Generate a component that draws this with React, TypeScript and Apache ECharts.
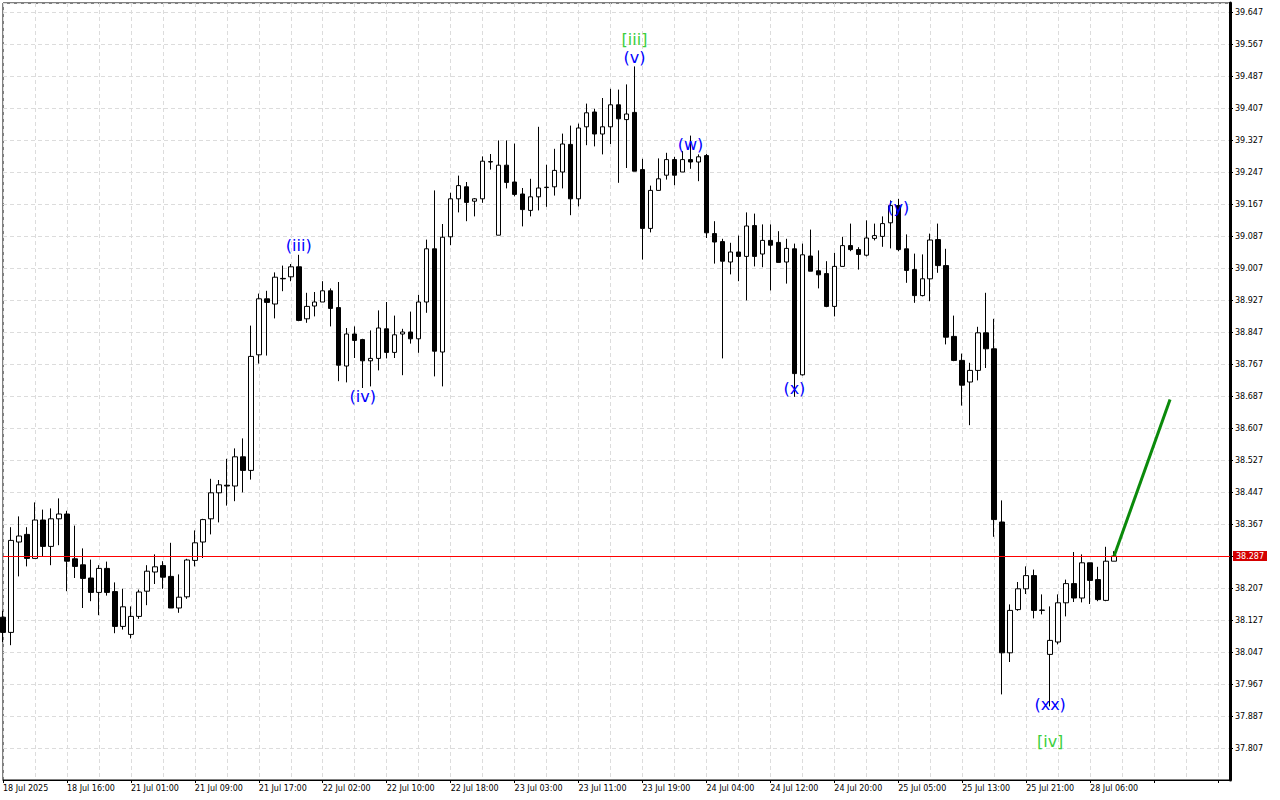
import { useEffect, useRef } from 'react';
import * as echarts from 'echarts';

// price offset so that tick values (37.807, 37.887, ...) become multiples of the 0.08 step
const OFFSET = 0.047;
const Y_STEP = 0.08;
const Y_MIN = 37.727;
const Y_MAX = 39.6695;
const X_MAX = 153.5;

const xLabels = [
  '18 Jul 2025', '18 Jul 16:00', '21 Jul 01:00', '21 Jul 09:00', '21 Jul 17:00', '22 Jul 02:00',
  '22 Jul 10:00', '22 Jul 18:00', '23 Jul 03:00', '23 Jul 11:00', '23 Jul 19:00', '24 Jul 04:00',
  '24 Jul 12:00', '24 Jul 20:00', '25 Jul 05:00', '25 Jul 13:00', '25 Jul 21:00', '28 Jul 06:00',
];

const opens = [
  38.134, 38.096, 38.322, 38.341, 38.281, 38.377, 38.311, 38.380, 38.392, 38.280,
  38.265, 38.232, 38.196, 38.256, 38.198, 38.111, 38.091, 38.136, 38.199, 38.247,
  38.263, 38.236, 38.157, 38.185, 38.276, 38.322, 38.380, 38.445, 38.464, 38.462,
  38.535, 38.501, 38.790, 38.930, 38.917, 38.981, 38.985, 39.010, 38.880, 38.912,
  38.922, 38.950, 38.908, 38.762, 38.842, 38.828, 38.775, 38.781, 38.855, 38.796,
  38.842, 38.847, 38.830, 38.922, 39.055, 38.797, 39.085, 39.180, 39.210, 39.174,
  39.180, 39.272, 39.089, 39.264, 39.222, 39.192, 39.151, 39.185, 39.208, 39.210,
  39.247, 39.316, 39.180, 39.360, 39.397, 39.342, 39.360, 39.415, 39.378, 39.396,
  39.253, 39.106, 39.201, 39.239, 39.278, 39.247, 39.278, 39.272, 39.288, 39.093,
  39.073, 39.022, 39.047, 39.036, 39.113, 39.042, 39.076, 39.071, 39.022, 39.055,
  38.740, 39.037, 39.000, 38.993, 38.911, 39.011, 39.063, 39.053, 39.039, 39.081,
  39.086, 39.120, 39.163, 39.055, 39.003, 38.938, 38.980, 39.078, 39.013, 38.836,
  38.776, 38.722, 38.751, 38.845, 38.805, 38.372, 38.045, 38.153, 38.205, 38.238,
  38.151, 38.041, 38.072, 38.170, 38.218, 38.182, 38.270, 38.228, 38.176, 38.274,
];
const closes = [
  38.096, 38.326, 38.337, 38.281, 38.377, 38.311, 38.380, 38.392, 38.274, 38.261,
  38.231, 38.196, 38.256, 38.196, 38.111, 38.160, 38.136, 38.197, 38.249, 38.260,
  38.234, 38.157, 38.184, 38.277, 38.320, 38.378, 38.445, 38.465, 38.462, 38.535,
  38.501, 38.786, 38.930, 38.921, 38.984, 38.980, 39.010, 38.876, 38.911, 38.922,
  38.950, 38.906, 38.764, 38.842, 38.826, 38.775, 38.781, 38.857, 38.796, 38.840,
  38.847, 38.830, 38.922, 39.055, 38.799, 39.084, 39.180, 39.213, 39.171, 39.180,
  39.274, 39.273, 39.264, 39.221, 39.191, 39.153, 39.185, 39.207, 39.209, 39.251,
  39.317, 39.180, 39.357, 39.395, 39.342, 39.360, 39.415, 39.380, 39.392, 39.249,
  39.106, 39.201, 39.230, 39.278, 39.239, 39.278, 39.272, 39.285, 39.095, 39.072,
  39.024, 39.047, 39.036, 39.112, 39.036, 39.076, 39.064, 39.021, 39.056, 38.743,
  39.040, 38.999, 38.990, 38.911, 39.011, 39.063, 39.053, 39.041, 39.082, 39.088,
  39.118, 39.163, 39.053, 39.001, 38.938, 38.980, 39.077, 39.013, 38.834, 38.776,
  38.714, 38.751, 38.845, 38.805, 38.378, 38.045, 38.151, 38.205, 38.238, 38.151,
  38.152, 38.076, 38.170, 38.218, 38.182, 38.270, 38.226, 38.178, 38.274, 38.287,
];
const lows = [
  38.072, 38.064, 38.236, 38.261, 38.281, 38.287, 38.264, 38.314, 38.199, 38.232,
  38.157, 38.174, 38.139, 38.188, 38.094, 38.103, 38.081, 38.130, 38.164, 38.217,
  38.205, 38.157, 38.145, 38.180, 38.261, 38.282, 38.341, 38.371, 38.413, 38.424,
  38.446, 38.478, 38.768, 38.788, 38.881, 38.949, 38.974, 38.874, 38.870, 38.886,
  38.922, 38.861, 38.724, 38.721, 38.782, 38.707, 38.711, 38.751, 38.781, 38.782,
  38.739, 38.818, 38.795, 38.895, 38.736, 38.711, 39.064, 39.146, 39.124, 39.136,
  39.170, 39.253, 39.089, 39.206, 39.186, 39.111, 39.136, 39.151, 39.160, 39.188,
  39.206, 39.139, 39.161, 39.314, 39.311, 39.291, 39.317, 39.220, 39.257, 39.249,
  39.028, 39.096, 39.201, 39.228, 39.214, 39.247, 39.255, 39.224, 39.082, 39.018,
  38.781, 38.991, 38.974, 38.926, 39.011, 39.009, 38.951, 39.021, 38.968, 38.685,
  38.738, 38.999, 38.956, 38.909, 38.886, 39.011, 39.049, 39.003, 39.036, 39.076,
  39.060, 39.056, 39.049, 38.970, 38.920, 38.936, 38.924, 38.995, 38.816, 38.774,
  38.663, 38.614, 38.726, 38.757, 38.335, 37.941, 38.022, 38.150, 38.192, 38.131,
  38.141, 37.911, 38.066, 38.136, 38.172, 38.171, 38.167, 38.174, 38.174, 38.274,
];
const highs = [
  38.150, 38.359, 38.386, 38.359, 38.421, 38.403, 38.406, 38.431, 38.400, 38.363,
  38.306, 38.278, 38.264, 38.273, 38.221, 38.205, 38.161, 38.203, 38.264, 38.291,
  38.274, 38.320, 38.241, 38.280, 38.351, 38.380, 38.480, 38.477, 38.530, 38.556,
  38.581, 38.863, 38.943, 38.950, 38.996, 39.013, 39.017, 39.040, 38.945, 38.947,
  38.974, 38.956, 38.972, 38.857, 38.861, 38.830, 38.851, 38.901, 38.922, 38.888,
  38.855, 38.898, 38.940, 39.078, 39.201, 39.117, 39.195, 39.238, 39.222, 39.182,
  39.286, 39.292, 39.326, 39.326, 39.318, 39.207, 39.230, 39.360, 39.265, 39.305,
  39.343, 39.363, 39.368, 39.418, 39.405, 39.432, 39.455, 39.453, 39.466, 39.511,
  39.280, 39.213, 39.281, 39.295, 39.285, 39.299, 39.338, 39.291, 39.292, 39.124,
  39.080, 39.070, 39.088, 39.146, 39.143, 39.116, 39.116, 39.099, 39.080, 39.068,
  39.068, 39.103, 39.051, 39.024, 39.045, 39.085, 39.118, 39.059, 39.126, 39.118,
  39.136, 39.176, 39.180, 39.091, 39.043, 39.041, 39.093, 39.118, 39.055, 38.888,
  38.793, 38.770, 38.860, 38.945, 38.880, 38.426, 38.166, 38.222, 38.261, 38.253,
  38.191, 38.161, 38.191, 38.228, 38.297, 38.291, 38.270, 38.260, 38.310, 38.299,
];

const lastPrice = 38.287;
const projBars = [139, 146];
const projPrices = [38.287, 38.678];

const waveTexts = ['[iii]', '(v)', '(iii)', '(iv)', '(w)', '(x)', '(y)', '(xx)', '[iv]'];
const waveBars = [79, 79, 37, 45, 86, 99, 112, 131, 131];
const wavePrices = [39.578, 39.533, 39.063, 38.686, 39.316, 38.705, 39.158, 37.916, 37.823];
const waveDegree = ['minor', 'minute', 'minute', 'minute', 'minute', 'minute', 'minute', 'minute', 'minor'];

const FONT = 'DejaVu Sans, Tahoma, sans-serif';

export default function App() {
  const ref = useRef<HTMLDivElement>(null);

  useEffect(() => {
    if (!ref.current) return;
    const chart = echarts.init(ref.current, undefined, { renderer: 'svg' });

    const candles = opens.map((o, i) => [
      i,
      o - OFFSET,
      closes[i] - OFFSET,
      lows[i] - OFFSET,
      highs[i] - OFFSET,
    ]);

    const dash = { type: [4, 3] as any, color: '#dcdcdc', width: 1 };

    const option: any = {
      animation: false,
      backgroundColor: '#ffffff',
      grid: {
        left: 2,
        right: 50,
        top: 3,
        bottom: 20,
        show: true,
        borderColor: '#000',
        borderWidth: 1,
        backgroundColor: 'transparent',
      },
      xAxis: {
        type: 'value',
        min: 0,
        max: X_MAX,
        interval: 8,
        axisLine: { show: true, onZero: false, lineStyle: { color: '#000', width: 1 } },
        axisTick: { show: true, length: 3, lineStyle: { color: '#000' } },
        axisLabel: {
          show: true,
          align: 'left',
          margin: 4,
          color: '#000',
          fontFamily: FONT,
          fontSize: 8,
          showMaxLabel: false,
          formatter: (v: number) => xLabels[Math.round(v / 8)] ?? '',
        },
        splitLine: { show: true, lineStyle: dash },
        minorTick: { show: false, splitNumber: 2 },
        minorSplitLine: { show: true, lineStyle: dash },
      },
      yAxis: {
        type: 'value',
        position: 'right',
        min: Y_MIN - OFFSET,
        max: Y_MAX - OFFSET,
        interval: Y_STEP,
        axisLine: { show: true, onZero: false, lineStyle: { color: '#000', width: 3 } },
        axisTick: { show: true, length: 3, lineStyle: { color: '#000' } },
        axisLabel: {
          show: true,
          margin: 5,
          color: '#000',
          fontFamily: FONT,
          fontSize: 8,
          showMinLabel: false,
          showMaxLabel: false,
          formatter: (v: number) => (v + OFFSET).toFixed(3),
        },
        splitLine: { show: true, lineStyle: dash },
      },
      series: [
        {
          type: 'candlestick',
          data: candles,
          encode: { x: 0, y: [1, 2, 3, 4] },
          barWidth: 5,
          clip: false,
          itemStyle: {
            color: '#ffffff',
            color0: '#000000',
            borderColor: '#000000',
            borderColor0: '#000000',
            borderWidth: 1,
          },
          markLine: {
            silent: true,
            symbol: 'none',
            data: [{ yAxis: lastPrice - OFFSET }],
            lineStyle: { color: '#ff0000', width: 1, type: 'solid' },
            label: {
              show: true,
              position: 'end',
              distance: 3,
              formatter: lastPrice.toFixed(3),
              color: '#ffffff',
              backgroundColor: '#d40000',
              padding: [1, 3, 1, 3],
              fontFamily: FONT,
              fontSize: 8,
            },
          },
        },
        {
          type: 'line',
          data: projBars.map((b, i) => [b, projPrices[i] - OFFSET]),
          symbol: 'none',
          lineStyle: { color: '#0b8a0b', width: 3 },
          z: 5,
        },
        {
          type: 'scatter',
          symbol: 'circle',
          symbolSize: 1,
          itemStyle: { color: 'rgba(0,0,0,0)', opacity: 1 },
          z: 6,
          data: waveTexts.map((t, i) => ({
            value: [waveBars[i], wavePrices[i] - OFFSET],
            label: {
              show: true,
              position: 'inside',
              formatter: t,
              color: waveDegree[i] === 'minor' ? '#3ccf3c' : '#0000ff',
              opacity: 1,
              fontFamily: FONT,
              fontSize: 16,
            },
          })),
        },
      ],
    };

    chart.setOption(option);
    return () => chart.dispose();
  }, []);

  return (
    <div
      ref={ref}
      style={{ position: 'fixed', left: 0, top: 0, width: 1280, height: 800, background: '#fff' }}
    />
  );
}
